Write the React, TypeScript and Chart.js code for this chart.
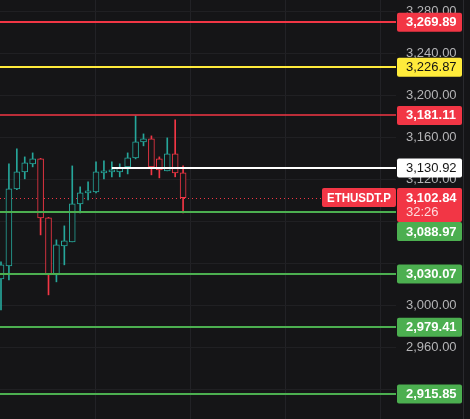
import React, { useEffect, useRef } from 'react';
import { Chart, registerables } from 'chart.js';

Chart.register(...registerables);

// ---- data ----
const candleIndex = [0, 1, 2, 3, 4, 5, 6, 7, 8, 9, 10, 11, 12, 13, 14, 15, 16, 17, 18, 19, 20, 21, 22, 23];
const opens = [3025.4, 3037.8, 3111.1, 3127.3, 3135.0, 3139.7, 3083.5, 3029.2, 3056.9, 3060.7, 3096.9, 3107.3, 3108.3, 3126.4, 3127.3, 3127.3, 3132.1, 3140.7, 3155.9, 3158.8, 3139.7, 3128.3, 3144.5, 3126.4];
const highs = [3041.6, 3135.0, 3149.2, 3141.6, 3145.4, 3140.2, 3084.0, 3062.6, 3075.9, 3133.0, 3113.0, 3117.8, 3136.9, 3137.8, 3136.9, 3135.0, 3145.4, 3180.7, 3163.5, 3161.6, 3141.6, 3159.7, 3176.9, 3133.0];
const lows = [2995.9, 3024.5, 3110.5, 3120.7, 3132.1, 3067.3, 3010.2, 3022.6, 3038.8, 3060.7, 3088.3, 3100.7, 3107.3, 3120.7, 3122.6, 3122.6, 3125.4, 3139.7, 3152.1, 3124.5, 3121.6, 3128.3, 3122.6, 3088.3];
const closes = [3038.8, 3111.1, 3127.3, 3135.9, 3139.7, 3083.5, 3029.2, 3057.8, 3061.6, 3096.9, 3107.3, 3109.2, 3127.3, 3128.3, 3129.2, 3131.1, 3140.7, 3155.9, 3158.8, 3132.1, 3129.2, 3144.5, 3126.4, 3102.84];

const yTickValues = [2920, 2960, 3000, 3040, 3080, 3120, 3160, 3200, 3240, 3280];
const levelValues = [3269.89, 3226.87, 3181.11, 3130.92, 3088.97, 3030.07, 2979.41, 2915.85];
const levelStartIndex = [null, null, null, 14, null, null, null, null];
const lastPrice = 3102.84;
const countdownText = '32:26';
const symbolText = 'ETHUSDT.P';

// ---- styles ----
const BG = '#151517';
const UP = '#26a69a';
const DOWN = '#f23645';
const levelColors = ['#f23645', '#ffeb3b', '#f23645', '#ffffff', '#4caf50', '#4caf50', '#4caf50', '#4caf50'];
const levelTextColors = ['#ffffff', '#131313', '#ffffff', '#131313', '#ffffff', '#ffffff', '#ffffff', '#ffffff'];
const levelWidths = [2, 2, 1.5, 2, 2, 2, 2, 2];
const FONT = '"Liberation Sans", Arial, sans-serif';

const fmt = (v: number) =>
  v.toLocaleString('en-US', { minimumFractionDigits: 2, maximumFractionDigits: 2 });

const isUp = candleIndex.map((i) => closes[i] >= opens[i]);

function roundRect(ctx: CanvasRenderingContext2D, x: number, y: number, w: number, h: number, r: number) {
  ctx.beginPath();
  if ((ctx as any).roundRect) (ctx as any).roundRect(x, y, w, h, r);
  else ctx.rect(x, y, w, h);
  ctx.fill();
}

const levelsPlugin = {
  id: 'levels',
  beforeDatasetsDraw(chart: any) {
    const { ctx, chartArea, scales } = chart;
    const y = Math.round(scales.y.getPixelForValue(lastPrice)) + 0.5;
    ctx.save();
    ctx.strokeStyle = DOWN;
    ctx.lineWidth = 1;
    ctx.setLineDash([1, 3]);
    ctx.beginPath();
    ctx.moveTo(chartArea.left, y);
    ctx.lineTo(chartArea.right, y);
    ctx.stroke();
    ctx.restore();
  },
  afterDatasetsDraw(chart: any) {
    const { ctx, chartArea, scales } = chart;
    ctx.save();
    ctx.beginPath();
    ctx.rect(chartArea.left, chartArea.top, chartArea.right - chartArea.left, chartArea.bottom - chartArea.top);
    ctx.clip();
    levelValues.forEach((v, k) => {
      const w = levelWidths[k];
      const y = Math.round(scales.y.getPixelForValue(v));
      const start = levelStartIndex[k];
      const x0 = start === null ? chartArea.left : scales.x.getPixelForValue(start);
      ctx.strokeStyle = levelColors[k];
      ctx.lineWidth = w;
      ctx.beginPath();
      ctx.moveTo(x0, y);
      ctx.lineTo(chartArea.right, y);
      ctx.stroke();
    });
    ctx.restore();
  },
  afterDraw(chart: any) {
    const { ctx, chartArea, scales } = chart;
    const boxX = chartArea.right + 1;
    const boxW = 65;
    const textX = chartArea.right + 10;
    const boxH = 19;
    ctx.save();
    ctx.fillStyle = '#2a2a2e';
    ctx.fillRect(463, 0, 1, chart.height);

    type Lbl = { y: number; h: number; draw: (top: number) => void };
    const labels: Lbl[] = [];
    levelValues.forEach((v, k) => {
      labels.push({
        y: scales.y.getPixelForValue(v),
        h: boxH,
        draw: (top) => {
          ctx.fillStyle = levelColors[k];
          roundRect(ctx, boxX, top, boxW, boxH, 2);
          ctx.fillStyle = levelTextColors[k];
          ctx.font = (levelTextColors[k] === '#ffffff' ? 'bold ' : '') + '13px ' + FONT;
          ctx.textAlign = 'left';
          ctx.textBaseline = 'middle';
          ctx.fillText(fmt(v), textX, top + boxH / 2 + 0.5);
        },
      });
    });
    const lpY = scales.y.getPixelForValue(lastPrice);
    labels.push({
      y: lpY,
      h: 34,
      draw: (top) => {
        ctx.fillStyle = DOWN;
        roundRect(ctx, boxX, top, boxW, 34, 2);
        ctx.fillStyle = '#ffffff';
        ctx.font = 'bold 13px ' + FONT;
        ctx.textAlign = 'left';
        ctx.textBaseline = 'middle';
        ctx.fillText(fmt(lastPrice), textX, top + 10);
        ctx.fillStyle = 'rgba(255,235,236,0.9)';
        ctx.font = '13px ' + FONT;
        ctx.fillText(countdownText, textX, top + 24);
        ctx.fillStyle = DOWN;
        roundRect(ctx, chartArea.right - 74, top, 74, boxH, 2);
        ctx.fillStyle = '#ffffff';
        ctx.font = 'bold 13px ' + FONT;
        ctx.textAlign = 'center';
        ctx.fillText(symbolText, chartArea.right - 37, top + boxH / 2 + 0.5, 64);
      },
    });
    labels.sort((a, b) => a.y - b.y);
    let prevBottom = -Infinity;
    labels.forEach((l) => {
      let top = l.y - boxH / 2;
      if (top < prevBottom) top = prevBottom;
      l.draw(top);
      prevBottom = top + l.h;
    });
    ctx.restore();
  },
};

export default function App() {
  const ref = useRef<HTMLCanvasElement>(null);
  useEffect(() => {
    document.body.style.margin = '0';
    document.body.style.background = BG;
    const pxPerCandle = 7.917;
    const plotW = 396;
    const xMin = -1 / pxPerCandle;
    const xMax = xMin + plotW / pxPerCandle;
    const gridVals = [95, 190, 285, 380].map((p) => xMin + p / pxPerCandle);

    const chart = new Chart(ref.current as HTMLCanvasElement, {
      type: 'bar',
      data: {
        datasets: [
          {
            label: 'body',
            data: candleIndex.map((i) => ({ x: i, y: [opens[i], closes[i]] })) as any,
            backgroundColor: BG,
            borderColor: candleIndex.map((i) => (isUp[i] ? UP : DOWN)),
            borderWidth: 1,
            borderSkipped: false,
            barThickness: 6,
            grouped: false,
          } as any,
          {
            label: 'wick',
            data: candleIndex.map((i) => ({ x: i, y: [lows[i], highs[i]] })) as any,
            backgroundColor: candleIndex.map((i) => (isUp[i] ? UP : DOWN)),
            borderWidth: 0,
            barThickness: 1,
            grouped: false,
          } as any,
        ],
      },
      options: {
        animation: false,
        responsive: false,
        maintainAspectRatio: false,
        layout: { padding: 0 },
        plugins: { legend: { display: false }, tooltip: { enabled: false } },
        scales: {
          x: {
            type: 'linear',
            min: xMin,
            max: xMax,
            offset: false,
            display: true,
            afterBuildTicks: (s: any) => {
              s.ticks = gridVals.map((v) => ({ value: v }));
            },
            afterFit: (s: any) => {
              s.height = 0;
              s.paddingLeft = 0;
              s.paddingRight = 0;
            },
            ticks: { display: false },
            grid: { color: '#222226', drawTicks: false, offset: false },
            border: { display: false },
          },
          y: {
            position: 'right',
            min: 2892,
            max: 3291,
            afterBuildTicks: (s: any) => {
              s.ticks = yTickValues.map((v) => ({ value: v }));
            },
            afterFit: (s: any) => {
              s.width = 74;
              s.paddingTop = 0;
              s.paddingBottom = 0;
            },
            grid: { color: '#202023', drawTicks: false },
            border: { display: false },
            ticks: {
              padding: 10,
              color: '#b4b4b6',
              font: { family: FONT, size: 13 },
              callback: (v: any) => {
                const n = Number(v);
                if (levelValues.some((l) => Math.abs(l - n) < 10)) return '';
                return fmt(n);
              },
            },
          },
        },
      },
      plugins: [levelsPlugin],
    });
    return () => chart.destroy();
  }, []);
  return (
    <div style={{ width: 470, height: 419, background: BG }}>
      <canvas ref={ref} width={470} height={419} style={{ display: 'block' }} />
    </div>
  );
}
